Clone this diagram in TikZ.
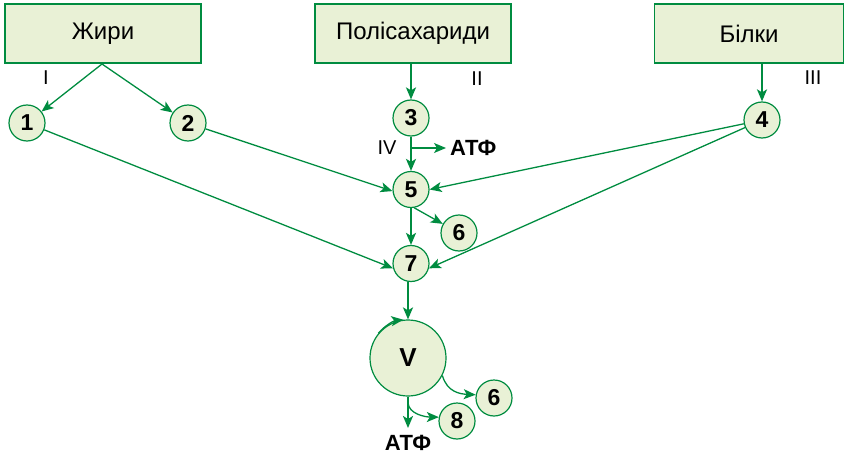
\documentclass[tikz,border=0pt]{standalone}
\usepackage{fontspec}
\setmainfont{Liberation Sans}
\usetikzlibrary{arrows.meta}
\definecolor{gline}{RGB}{0,140,64}
\definecolor{gfill}{RGB}{233,241,214}
\begin{document}
\begin{tikzpicture}[x=1pt,y=-1pt,
 box/.style={draw=gline, fill=gfill, line width=1.5pt, minimum height=59pt, inner sep=0pt, font=\fontsize{24}{28}\selectfont},
 num/.style={circle, draw=gline, fill=gfill, line width=1.2pt, minimum size=36pt, inner sep=0pt, font=\fontsize{23}{26}\selectfont\bfseries},
 arr/.style={draw=gline, line width=1.3pt, -{Stealth[length=12pt,width=10pt,inset=3pt]}},
 marr/.style={arr, line width=2pt},
 lab/.style={font=\fontsize{20}{24}\selectfont, inner sep=0pt},
 atp/.style={font=\fontsize{22}{26}\selectfont\bfseries, inner sep=0pt}]
\useasboundingbox (0,0) rectangle (845,457);
\node[box, minimum width=196pt] (b1) at (103,33.5) {Жири};
\node[box, minimum width=196pt] (b2) at (413,33.5) {Полісахариди};
\node[box, minimum width=189pt] (b3) at (749,33.5) {Білки};
\node[num] (n1) at (27,123) {1};
\node[num] (n2) at (188,123) {2};
\node[num] (n3) at (411,118) {3};
\node[num] (n4) at (762,120) {4};
\node[num] (n5) at (411,189.5) {5};
\node[num] (n6a) at (459,233) {6};
\node[num] (n7) at (411,263.5) {7};
\node[num, minimum size=76pt, font=\fontsize{26}{28}\selectfont\bfseries] (V) at (408,358) {V};
\node[num] (n6b) at (494,398) {6};
\node[num] (n8) at (457,421) {8};
\node[lab] (l1) at (46,78) {I};
\node[lab] (l2) at (477,79) {II};
\node[lab] (l3) at (813,78) {III};
\node[lab] (l4) at (387,148) {IV};
\node[atp, anchor=west] (atp1) at (450,148) {АТФ};
\node[atp] (atp2) at (408,442.5) {АТФ};
\coordinate (jb) at (102,64);
\coordinate (br1) at (411,148);
\coordinate (t1) at (446,148);
\coordinate (t2) at (408,428);
\coordinate (br2) at (408,403);
\draw[arr] (jb) -- (n1);
\draw[arr] (jb) -- (n2);
\draw[marr] (b2.south -| n3) -- (n3);
\draw[marr] (b3.south -| n4) -- (n4);
\draw[marr] (n3) -- (n5);
\draw[arr] (br1) -- (t1);
\draw[arr] (n1) -- (n7.195);
\draw[arr] (n2) -- (n5.185);
\draw[arr] (n4) -- (n5.east);
\draw[arr] (n4) -- (n7.-15);
\draw[marr] (n5) -- (n7);
\draw[arr] (n5.-80) -- (n6a);
\draw[marr] (n7.south -| V) -- (V.north);
\draw[arr] (V.center) ++(-140:38.6) arc[start angle=-140, end angle=-97, radius=38.6];
\draw[arr] (V.-27) .. controls (447,392) and (460,394) .. (n6b.170);
\draw[marr] (V.south) -- (t2);
\draw[arr] (br2) .. controls (409,414) and (425,417) .. (n8.168);
\end{tikzpicture}
\end{document}
